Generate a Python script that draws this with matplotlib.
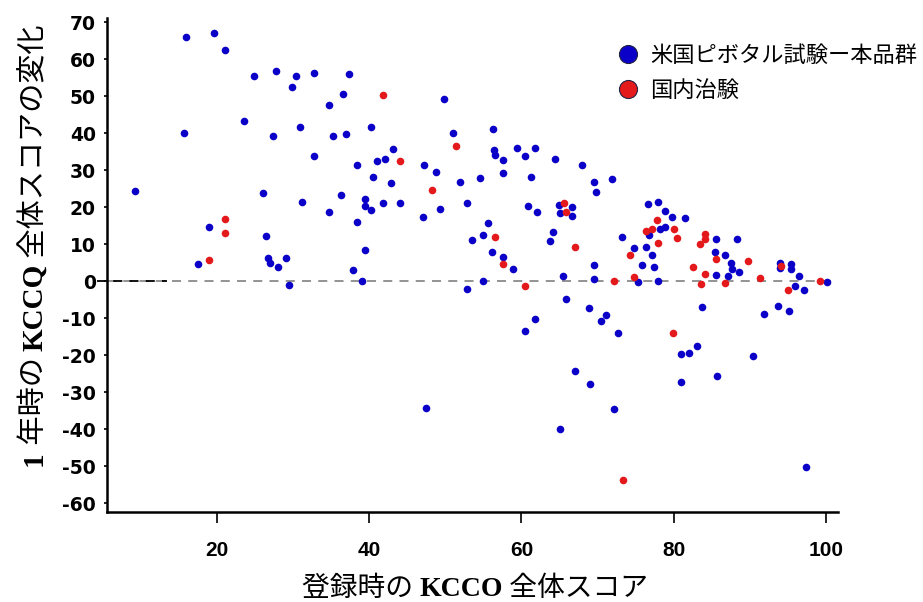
import matplotlib
matplotlib.use('Agg')
import matplotlib.pyplot as plt
from matplotlib.lines import Line2D
from matplotlib.transforms import IdentityTransform

## ------------  Data  ---------------
# US pivotal trial (this product group)
us_x = [15.9, 19.6, 21.1, 24.9, 27.8, 30.4, 32.7, 37.3, 29.8, 36.6, 34.7, 23.5, 15.7, 30.9,
        27.4, 35.3, 37.0, 32.7,
        9.2, 19.0, 17.5, 26.1, 31.1, 34.7, 36.3, 26.4, 26.7, 27.0, 28.0, 29.1, 29.4, 37.9,
        49.8, 40.2, 56.2, 51.0, 43.1, 56.4, 56.5, 59.4, 61.8, 60.5, 57.6, 64.4, 68.0, 38.4,
        41.0, 42.1, 47.2, 48.8, 40.5, 57.6, 61.3, 54.5, 51.9, 42.8,
        39.4, 39.4, 40.2, 41.8, 44.1, 49.3, 47.0, 52.9, 38.4, 60.9, 62.1, 64.9, 65.1, 66.7,
        66.7, 55.6, 53.5, 55.0, 39.4, 56.1, 57.6, 58.9, 64.1, 63.8, 39.1, 55.0, 52.9, 65.4,
        65.9, 68.9, 61.8, 60.4,
        69.5, 69.8, 71.9, 76.6, 78.0, 78.9, 79.8, 81.5, 78.2, 78.9, 76.8, 73.2, 74.8, 76.3,
        77.1, 75.8, 77.4, 75.3, 69.5, 69.5, 78.0, 85.6, 88.3, 85.4, 86.7, 87.5, 87.7, 88.6,
        87.2, 85.6, 94.0, 94.0, 95.4, 95.4, 96.5, 96.0, 97.1, 100.2, 83.7, 93.7,
        91.9, 95.2, 70.4, 71.1, 72.7, 80.9, 82.0, 83.0, 90.4, 81.0, 85.7, 69.0, 72.2, 97.4,
        67.0, 47.5, 65.1]
us_y = [66.2, 67.2, 62.6, 55.5, 56.8, 55.6, 56.4, 56.0, 52.6, 50.7, 47.7, 43.5, 40.1, 41.8,
        39.4, 39.4, 39.9, 33.9,
        24.4, 14.7, 4.7, 23.8, 21.5, 18.9, 23.3, 12.4, 6.3, 5.0, 4.0, 6.4, -0.9, 3.0,
        49.2, 41.8, 41.1, 40.0, 35.7, 35.6, 34.1, 36.0, 36.0, 34.0, 32.8, 33.1, 31.6, 31.6,
        32.6, 33.1, 31.6, 29.5, 28.2, 29.2, 28.2, 27.9, 26.9, 26.6,
        22.3, 20.4, 19.4, 21.2, 21.2, 19.7, 17.3, 21.2, 16.1, 20.5, 18.8, 20.6, 18.6, 20.2,
        17.8, 15.8, 11.1, 12.5, 8.5, 8.0, 6.6, 3.3, 13.3, 10.9, 0.2, 0.0, -1.9, 1.5,
        -4.7, -7.2, -10.2, -13.5,
        26.9, 24.2, 27.6, 21.0, 21.6, 19.1, 17.3, 17.1, 14.3, 14.8, 12.6, 12.1, 9.0, 9.4,
        7.2, 4.5, 3.9, -0.2, 4.5, 0.7, 0.0, 11.5, 11.5, 8.1, 7.2, 4.9, 3.4, 2.6,
        1.4, 1.7, 5.0, 3.6, 4.8, 3.3, 1.5, -1.1, -2.4, -0.1, -7.0, -6.5,
        -8.9, -8.1, -10.6, -9.1, -13.8, -19.7, -19.4, -17.4, -20.1, -27.2, -25.5, -27.7, -34.4, -50.2,
        -24.3, -34.2, -40.0]

# domestic clinical trial
jp_x = [21.1, 21.1, 19.0, 41.8, 51.4, 44.1, 48.3, 65.6, 65.9, 56.5, 57.6, 67.0, 60.4,
        77.8, 76.3, 77.2, 80.0, 80.5, 77.9, 74.2, 74.8, 72.2, 84.1, 84.1, 83.5, 85.6,
        89.7, 84.1, 82.6, 83.6, 86.7, 91.4, 94.1, 95.0, 99.2, 79.9, 73.4]
jp_y = [16.8, 13.0, 5.8, 50.3, 36.7, 32.6, 24.7, 21.2, 18.7, 11.9, 4.7, 9.2, -1.1,
        16.6, 13.7, 14.1, 14.1, 11.7, 10.5, 7.1, 1.3, 0.1, 12.8, 11.5, 10.0, 6.1,
        5.5, 1.9, 4.0, -0.6, -0.4, 1.0, 4.1, -2.2, 0.2, -14.0, -53.7]

labels = ['米国ピボタル試験ー本品群', '国内治験']
xticks = [20, 40, 60, 80, 100]
yticks = list(range(-60, 71, 10))

BLUE = '#0a00c8'
RED = '#e3191c'
CJK = ['Noto Sans CJK JP', 'DejaVu Sans']

## ------------  Figure  ---------------
fig = plt.figure(figsize=(9.23, 6.02), dpi=100)
ax = fig.add_axes([0.116, 0.1495, 0.792, 0.8205])

ax.scatter(us_x, us_y, s=30, color=BLUE, linewidths=0, zorder=3)
ax.scatter(jp_x, jp_y, s=30, color=RED, linewidths=0, zorder=4)

# zero reference line
ax.axhline(0, color='#8a8a8a', lw=1.3, ls=(0, (5, 4)), zorder=1)
ax.plot([4.2, 13.4], [0, 0], color='black', lw=1.3, ls=(0, (5, 4)), clip_on=False, zorder=2)

ax.set_xlim(5.55, 101.6)
ax.set_ylim(-62.3, 71.2)
ax.set_xticks(xticks)
ax.set_yticks(yticks)
ax.set_xticklabels([str(v) for v in xticks], family='Liberation Sans',
                   fontweight='bold', fontsize=15)
ax.set_yticklabels([str(v) for v in yticks], family='DejaVu Sans', fontweight='bold', fontsize=13.5)
ax.tick_params(axis='x', direction='out', length=8, width=1.2, pad=13)
ax.tick_params(axis='y', direction='out', length=2, width=1.2, pad=6)

for side in ['top', 'right']:
    ax.spines[side].set_visible(False)
for side in ['left', 'bottom']:
    ax.spines[side].set_linewidth(1.8)

handles = [Line2D([], [], ls='none', marker='o', markersize=13, markerfacecolor=c,
                  markeredgecolor='#222244', markeredgewidth=0.8) for c in [BLUE, RED]]
fig.legend(handles, labels, loc='upper left', bbox_to_anchor=(0.668, 0.927),
           frameon=False, prop={'family': CJK, 'size': 16}, handlelength=1.0,
           handletextpad=0.5, labelspacing=0.55, borderpad=0, borderaxespad=0)

## ------------  Axis titles (mixed fonts)  ---------------
renderer = fig.canvas.get_renderer()
serif_bold = {'family': 'Liberation Serif', 'fontweight': 'bold'}
cjk = {'family': CJK}


def mixed_text(parts, center, base, size, rotation=0):
    # lay the pieces end to end along the baseline, then centre the run
    texts = []
    pos = 0.0
    for s, kw in parts:
        if rotation:
            t = fig.text(base, pos, s, transform=IdentityTransform(), rotation=90,
                         rotation_mode='anchor', ha='left', va='baseline', fontsize=size, **kw)
            pos = t.get_window_extent(renderer).y1
        else:
            t = fig.text(pos, base, s, transform=IdentityTransform(),
                         ha='left', va='baseline', fontsize=size, **kw)
            pos = t.get_window_extent(renderer).x1
        texts.append(t)
    shift = center - pos / 2.0
    for t in texts:
        x, y = t.get_position()
        if rotation:
            t.set_position((x, y + shift))
        else:
            t.set_position((x + shift, y))


mixed_text([('登録時の ', cjk), ('KCCO', serif_bold), (' 全体スコア', cjk)],
           center=475, base=6, size=20)
mixed_text([('1', serif_bold), (' 年時の ', cjk), ('KCCQ', serif_bold), (' 全体スコアの変化', cjk)],
           center=602 - 245, base=42, size=21, rotation=90)

fig.savefig('out.png', dpi=100)
